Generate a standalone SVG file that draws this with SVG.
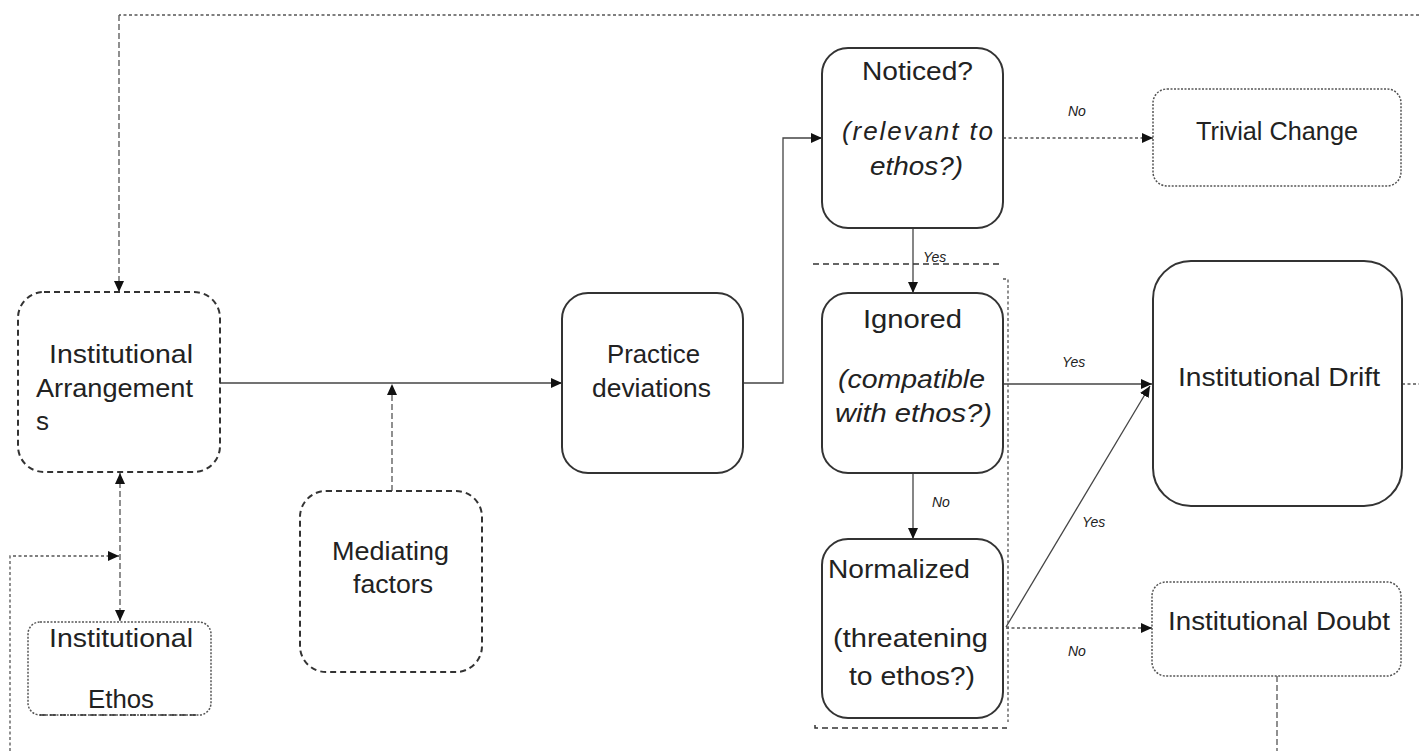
<svg xmlns="http://www.w3.org/2000/svg" width="1419" height="751" viewBox="0 0 1419 751">
<defs>
<style>
.t{font-family:"Liberation Sans",Arial,sans-serif;font-size:26px;fill:#222}
.it{font-style:italic}
.lb{font-family:"Liberation Sans",Arial,sans-serif;font-size:14px;font-style:italic;fill:#222}
.solid{fill:#fff;stroke:#333;stroke-width:2}
.dash{fill:#fff;stroke:#333;stroke-width:2;stroke-dasharray:6 4}
.dot{fill:#fff;stroke:#555;stroke-width:1.5;stroke-dasharray:2 1.5}
.c{fill:none;stroke:#444;stroke-width:1.3}
.cdot{fill:none;stroke:#555;stroke-width:1.3;stroke-dasharray:3 2.5}
.cdash{fill:none;stroke:#555;stroke-width:1.3;stroke-dasharray:6 3}
.gdash{fill:none;stroke:#333;stroke-width:1.5;stroke-dasharray:6 4}
</style>
<marker id="ah" markerWidth="12" markerHeight="10" refX="11" refY="5" orient="auto" markerUnits="userSpaceOnUse">
<path d="M0,0 L11,5 L0,10 Z" fill="#111"/>
</marker>
<marker id="ahs" markerWidth="12" markerHeight="10" refX="11" refY="5" orient="auto-start-reverse" markerUnits="userSpaceOnUse">
<path d="M0,0 L11,5 L0,10 Z" fill="#111"/>
</marker>
</defs>

<g id="connectors">
<path class="cdot" d="M1419,15 H119"/>
<path class="cdash" d="M119,15 V292" marker-end="url(#ah)"/>
<path class="c" d="M220,383 H562" marker-end="url(#ah)"/>
<path class="cdash" d="M392,491 V384" marker-end="url(#ah)"/>
<path class="cdash" d="M120,473 V621" marker-start="url(#ahs)" marker-end="url(#ah)"/>
<path class="cdot" d="M10,751 V556 H119" marker-end="url(#ah)"/>
<path class="c" d="M743,383 H783 V138 H822" marker-end="url(#ah)"/>
<path class="cdot" d="M1003,138 H1153" marker-end="url(#ah)"/>
<text class="lb" x="1068" y="116">No</text>
<path class="c" d="M913,228 V293" marker-end="url(#ah)"/>
<text class="lb" x="923" y="262">Yes</text>
<path class="c" d="M1003,384 H1152" marker-end="url(#ah)"/>
<text class="lb" x="1062" y="367">Yes</text>
<path class="c" d="M913,473 V539" marker-end="url(#ah)"/>
<text class="lb" x="932" y="507">No</text>
<path class="c" d="M1006,627 L1150,386" marker-end="url(#ah)"/>
<text class="lb" x="1082" y="527">Yes</text>
<path class="cdot" d="M1006,628 H1152" marker-end="url(#ah)"/>
<text class="lb" x="1068" y="656">No</text>
<path class="cdot" d="M1402,384 H1419"/>
<path class="cdash" d="M1277,676 V751"/>
<path class="gdash" d="M813,264 H1002"/>
<path class="cdot" d="M1003,279 H1008 V722"/>
<path class="gdash" d="M815,725 V728 H1007"/>
</g>

<g id="institutional-arrangements">
<rect class="dash" x="18" y="292" width="202" height="180" rx="26"/>
<text class="t" x="49" y="363" textLength="144" lengthAdjust="spacingAndGlyphs">Institutional</text>
<text class="t" x="36" y="397" textLength="157" lengthAdjust="spacingAndGlyphs">Arrangement</text>
<text class="t" x="36" y="430">s</text>
</g>

<g id="institutional-ethos">
<rect class="dot" x="28" y="622" width="183" height="93" rx="12"/>
<path class="gdash" d="M40,715 H200"/>
<text class="t" x="49" y="647" textLength="144" lengthAdjust="spacingAndGlyphs">Institutional</text>
<text class="t" x="88" y="708" textLength="66" lengthAdjust="spacingAndGlyphs">Ethos</text>
</g>

<g id="mediating-factors">
<rect class="dash" x="300" y="491" width="182" height="181" rx="26"/>
<text class="t" x="332" y="560" textLength="117" lengthAdjust="spacingAndGlyphs">Mediating</text>
<text class="t" x="353" y="593" textLength="80" lengthAdjust="spacingAndGlyphs">factors</text>
</g>

<g id="practice-deviations">
<rect class="solid" x="562" y="293" width="181" height="180" rx="26"/>
<text class="t" x="607" y="363" textLength="93" lengthAdjust="spacingAndGlyphs">Practice</text>
<text class="t" x="592" y="397" textLength="119" lengthAdjust="spacingAndGlyphs">deviations</text>
</g>

<g id="noticed">
<rect class="solid" x="822" y="48" width="181" height="180" rx="26"/>
<text class="t" x="862" y="80" textLength="111" lengthAdjust="spacingAndGlyphs">Noticed?</text>
<text class="t it" x="842" y="140" textLength="151" lengthAdjust="spacing">(relevant  to</text>
<text class="t it" x="870" y="175" textLength="93" lengthAdjust="spacingAndGlyphs">ethos?)</text>
</g>

<g id="ignored">
<rect class="solid" x="822" y="293" width="181" height="180" rx="26"/>
<text class="t" x="863" y="328" textLength="99" lengthAdjust="spacingAndGlyphs">Ignored</text>
<text class="t it" x="838" y="388" textLength="147" lengthAdjust="spacingAndGlyphs">(compatible</text>
<text class="t it" x="835" y="422" textLength="157" lengthAdjust="spacingAndGlyphs">with ethos?)</text>
</g>

<g id="normalized">
<rect class="solid" x="822" y="539" width="181" height="179" rx="26"/>
<text class="t" x="828" y="578" textLength="142" lengthAdjust="spacingAndGlyphs">Normalized</text>
<text class="t" x="833" y="647" textLength="155" lengthAdjust="spacingAndGlyphs">(threatening</text>
<text class="t" x="849" y="685" textLength="126" lengthAdjust="spacingAndGlyphs">to ethos?)</text>
</g>

<g id="trivial-change">
<rect class="dot" x="1153" y="89" width="248" height="97" rx="14"/>
<text class="t" x="1196" y="140" textLength="162" lengthAdjust="spacingAndGlyphs">Trivial Change</text>
</g>

<g id="institutional-drift">
<rect class="solid" x="1153" y="261" width="249" height="245" rx="38"/>
<text class="t" x="1178" y="386" textLength="202" lengthAdjust="spacingAndGlyphs">Institutional Drift</text>
</g>

<g id="institutional-doubt">
<rect class="dot" x="1152" y="582" width="249" height="94" rx="14"/>
<text class="t" x="1168" y="630" textLength="222" lengthAdjust="spacingAndGlyphs">Institutional Doubt</text>
</g>
</svg>
